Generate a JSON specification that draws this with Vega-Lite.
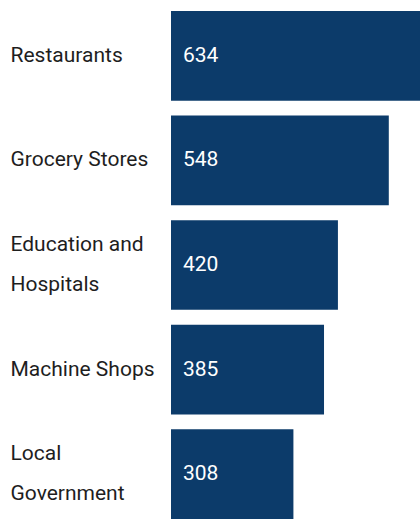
{
  "$schema": "https://vega.github.io/schema/vega-lite/v6.json",
  "autosize": {"type": "none"},
  "width": 249,
  "height": 508,
  "padding": {"left": 171, "top": 11, "right": 0, "bottom": 0},
  "background": "white",
  "config": {"view": {"stroke": null}},
  "data": {
    "values": [
      {"category": "Restaurants", "value": 634},
      {"category": "Grocery Stores", "value": 548},
      {"category": "Education and Hospitals", "value": 420},
      {"category": "Machine Shops", "value": 385},
      {"category": "Local Government", "value": 308}
    ]
  },
  "encoding": {
    "y": {
      "field": "category",
      "type": "nominal",
      "sort": null,
      "scale": {"paddingInner": 0.143, "paddingOuter": 0},
      "axis": {
        "title": null,
        "domain": false,
        "ticks": false,
        "labelAlign": "left",
        "labelBaseline": "middle",
        "labelPadding": 161,
        "labelFont": "Roboto",
        "labelFontSize": 21,
        "labelColor": "#1e1e1e",
        "labelLineHeight": 40,
        "labelLimit": 200,
        "labelOffset": {"condition": {"test": "datum.value == 'Education and Hospitals' || datum.value == 'Local Government'", "value": -20}, "value": 0},
        "labelExpr": "datum.value == 'Education and Hospitals' ? ['Education and', 'Hospitals'] : datum.value == 'Local Government' ? ['Local', 'Government'] : datum.value"
      }
    }
  },
  "layer": [
    {
      "mark": {"type": "bar", "color": "#0c3b6a"},
      "encoding": {
        "x": {
          "field": "value",
          "type": "quantitative",
          "scale": {"domain": [0, 626.5], "nice": false, "clamp": true},
          "axis": null
        }
      }
    },
    {
      "mark": {
        "type": "text",
        "align": "left",
        "baseline": "middle",
        "dx": 12,
        "color": "white",
        "font": "Roboto",
        "fontSize": 21
      },
      "encoding": {
        "x": {"datum": 0, "type": "quantitative"},
        "text": {"field": "value", "type": "quantitative"}
      }
    }
  ]
}
